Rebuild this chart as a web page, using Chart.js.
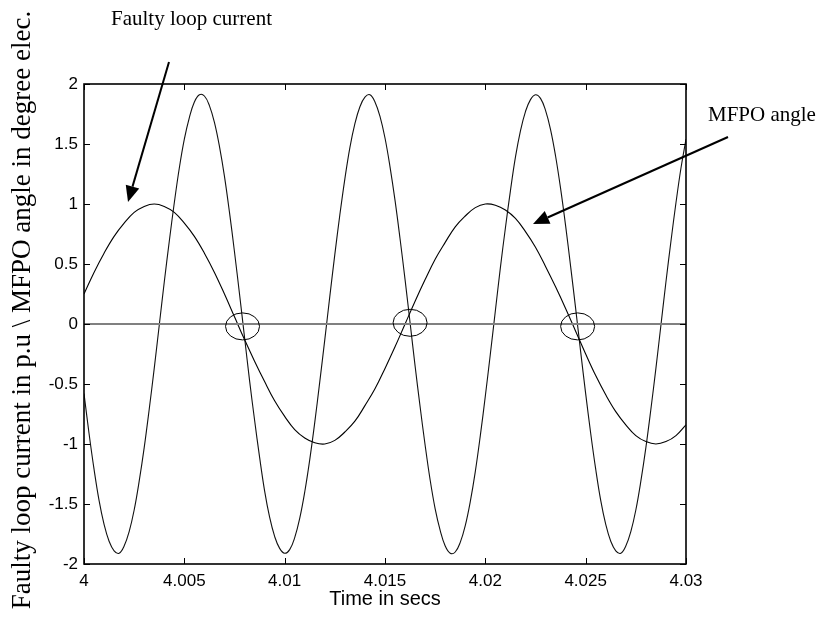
<!DOCTYPE html>
<html>
<head>
<meta charset="utf-8">
<script src="https://cdn.jsdelivr.net/npm/chart.js@4.4.1/dist/chart.umd.min.js"></script>
<style>
  html, body { margin: 0; padding: 0; background: #fff; }
</style>
</head>
<body>
<canvas id="grafico" width="825" height="625"></canvas>
<script>
// Sampling grid of the two traces (seconds)
const startTime = 4;
const currentStep = 0.0005;
const angleStep = 0.00025;

// Faulty loop current, p.u. (every 0.5 ms)
const faultyCurrent = [
  0.25, 0.43, 0.59, 0.73, 0.84, 0.93, 0.98, 1.00, 0.98, 0.93,
  0.84, 0.73, 0.59, 0.43, 0.25, 0.06, -0.13, -0.31, -0.48, -0.64,
  -0.77, -0.88, -0.95, -0.99, -1.00, -0.97, -0.90, -0.81, -0.68, -0.54,
  -0.37, -0.19, 0.00, 0.19, 0.37, 0.54, 0.68, 0.81, 0.90, 0.97,
  1.00, 0.99, 0.95, 0.88, 0.77, 0.64, 0.48, 0.31, 0.13, -0.06,
  -0.25, -0.43, -0.59, -0.73, -0.84, -0.93, -0.98, -1.00, -0.98, -0.93,
  -0.84
];

// MFPO angle (every 0.25 ms)
const mfpoAngle = [
  -0.58, -0.91, -1.21, -1.47, -1.67, -1.81, -1.89, -1.91, -1.85, -1.73,
  -1.55, -1.31, -1.03, -0.71, -0.37, -0.01, 0.35, 0.69, 1.01, 1.30,
  1.54, 1.72, 1.85, 1.91, 1.90, 1.82, 1.68, 1.48, 1.23, 0.93,
  0.60, 0.25, -0.11, -0.47, -0.80, -1.11, -1.39, -1.61, -1.77, -1.87,
  -1.91, -1.88, -1.78, -1.62, -1.40, -1.13, -0.82, -0.48, -0.13, 0.23,
  0.58, 0.91, 1.21, 1.47, 1.67, 1.81, 1.89, 1.91, 1.85, 1.73,
  1.55, 1.31, 1.03, 0.71, 0.37, 0.01, -0.35, -0.69, -1.01, -1.30,
  -1.54, -1.72, -1.85, -1.91, -1.90, -1.82, -1.68, -1.48, -1.23, -0.93,
  -0.60, -0.25, 0.11, 0.47, 0.80, 1.11, 1.39, 1.61, 1.77, 1.87,
  1.91, 1.88, 1.78, 1.62, 1.40, 1.13, 0.82, 0.48, 0.13, -0.23,
  -0.58, -0.91, -1.21, -1.47, -1.67, -1.81, -1.89, -1.91, -1.85, -1.73,
  -1.55, -1.31, -1.03, -0.71, -0.37, -0.01, 0.35, 0.69, 1.01, 1.30,
  1.54
];

// Tick labels
const xTicks = [4, 4.005, 4.01, 4.015, 4.02, 4.025, 4.03];
const yTicks = [-2, -1.5, -1, -0.5, 0, 0.5, 1, 1.5, 2];

// Zero reference line and the circled crossings
const zeroLineX = [4, 4.03];
const circleX = [4.0079, 4.01625, 4.0246];
const circleY = [-0.02, 0.01, -0.02];

const currentTimes = faultyCurrent.map((v, i) => startTime + i * currentStep);
const angleTimes = mfpoAngle.map((v, i) => startTime + i * angleStep);

const fmt = v => String(+Number(v).toFixed(3));

// Desenha caixa, ticks internos, círculos, setas e textos
const extras = {
  id: 'extras',
  afterDatasetsDraw(chart) {
    const c = chart.ctx;
    const a = chart.chartArea;
    const sx = chart.scales.x, sy = chart.scales.y;
    c.save();
    c.strokeStyle = '#000';
    c.fillStyle = '#000';

    // ticks on all four sides
    c.lineWidth = 1;
    c.beginPath();
    xTicks.forEach(v => {
      const px = Math.round(sx.getPixelForValue(v)) + 0.5;
      c.moveTo(px, a.bottom); c.lineTo(px, a.bottom - 6);
      c.moveTo(px, a.top); c.lineTo(px, a.top + 6);
    });
    yTicks.forEach(v => {
      const py = Math.round(sy.getPixelForValue(v)) + 0.5;
      c.moveTo(a.left, py); c.lineTo(a.left + 6, py);
      c.moveTo(a.right, py); c.lineTo(a.right - 6, py);
    });
    c.stroke();

    // box
    c.lineWidth = 1.6;
    c.strokeRect(a.left, a.top, a.right - a.left, a.bottom - a.top);

    // circles round the crossings
    c.lineWidth = 1;
    circleX.forEach((v, i) => {
      c.beginPath();
      c.ellipse(sx.getPixelForValue(v), sy.getPixelForValue(circleY[i]), 17, 13.5, 0, 0, Math.PI * 2);
      c.stroke();
    });

    // arrows
    c.lineWidth = 2;
    drawArrow(c, 169, 62, 128, 202);
    drawArrow(c, 728, 137, 533, 224);

    // annotation texts
    c.font = '21px "Liberation Serif", "Times New Roman", serif';
    c.textAlign = 'left';
    c.textBaseline = 'alphabetic';
    c.fillText('Faulty loop current', 111, 25);
    c.fillText('MFPO angle', 708, 121);

    // axis titles
    c.font = '20px "Liberation Sans", Arial, sans-serif';
    c.textAlign = 'center';
    c.fillText('Time in secs', 385, 605);

    c.save();
    c.translate(30, 310);
    c.rotate(-Math.PI / 2);
    c.font = '27px "Liberation Serif", "Times New Roman", serif';
    c.fillText('Faulty loop current in p.u \\ MFPO angle in degree elec.', 0, 0);
    c.restore();

    c.restore();
  }
};

function drawArrow(c, x1, y1, x2, y2) {
  const ang = Math.atan2(y2 - y1, x2 - x1);
  const len = 16, w = 7;
  const bx = x2 - len * Math.cos(ang), by = y2 - len * Math.sin(ang);
  c.beginPath();
  c.moveTo(x1, y1);
  c.lineTo(bx, by);
  c.stroke();
  c.beginPath();
  c.moveTo(x2, y2);
  c.lineTo(bx + w * Math.sin(ang), by - w * Math.cos(ang));
  c.lineTo(bx - w * Math.sin(ang), by + w * Math.cos(ang));
  c.closePath();
  c.fill();
}

const tickFont = { family: '"Liberation Sans", Arial, sans-serif', size: 17 };

new Chart(document.getElementById('grafico').getContext('2d'), {
  type: 'line',
  data: {
    datasets: [
      {
        label: 'zero',
        data: zeroLineX.map(t => ({ x: t, y: 0 })),
        borderColor: '#808080',
        borderWidth: 2,
        pointRadius: 0
      },
      {
        label: 'Faulty loop current',
        data: currentTimes.map((t, i) => ({ x: t, y: faultyCurrent[i] })),
        borderColor: '#000',
        borderWidth: 1.1,
        pointRadius: 0,
        tension: 0.4
      },
      {
        label: 'MFPO angle',
        data: angleTimes.map((t, i) => ({ x: t, y: mfpoAngle[i] })),
        borderColor: '#111',
        borderWidth: 1.1,
        pointRadius: 0,
        tension: 0.4
      }
    ]
  },
  options: {
    responsive: false,
    animation: false,
    layout: { padding: { top: 84, right: 139, left: 0, bottom: 0 } },
    plugins: { legend: { display: false }, tooltip: { enabled: false } },
    scales: {
      x: {
        type: 'linear',
        min: 4,
        max: 4.03,
        afterBuildTicks: s => { s.ticks = xTicks.map(v => ({ value: v })); },
        afterFit: s => { s.height = 61; },
        grid: { display: false, drawTicks: false },
        border: { display: false },
        ticks: { font: tickFont, color: '#000', padding: 7, maxRotation: 0, autoSkip: false, callback: v => fmt(v) }
      },
      y: {
        type: 'linear',
        min: -2,
        max: 2,
        afterBuildTicks: s => { s.ticks = yTicks.map(v => ({ value: v })); },
        afterFit: s => { s.width = 84; },
        grid: { display: false, drawTicks: false },
        border: { display: false },
        ticks: { font: tickFont, color: '#000', padding: 6, autoSkip: false, callback: v => fmt(v) }
      }
    }
  },
  plugins: [extras]
});
</script>
</body>
</html>
